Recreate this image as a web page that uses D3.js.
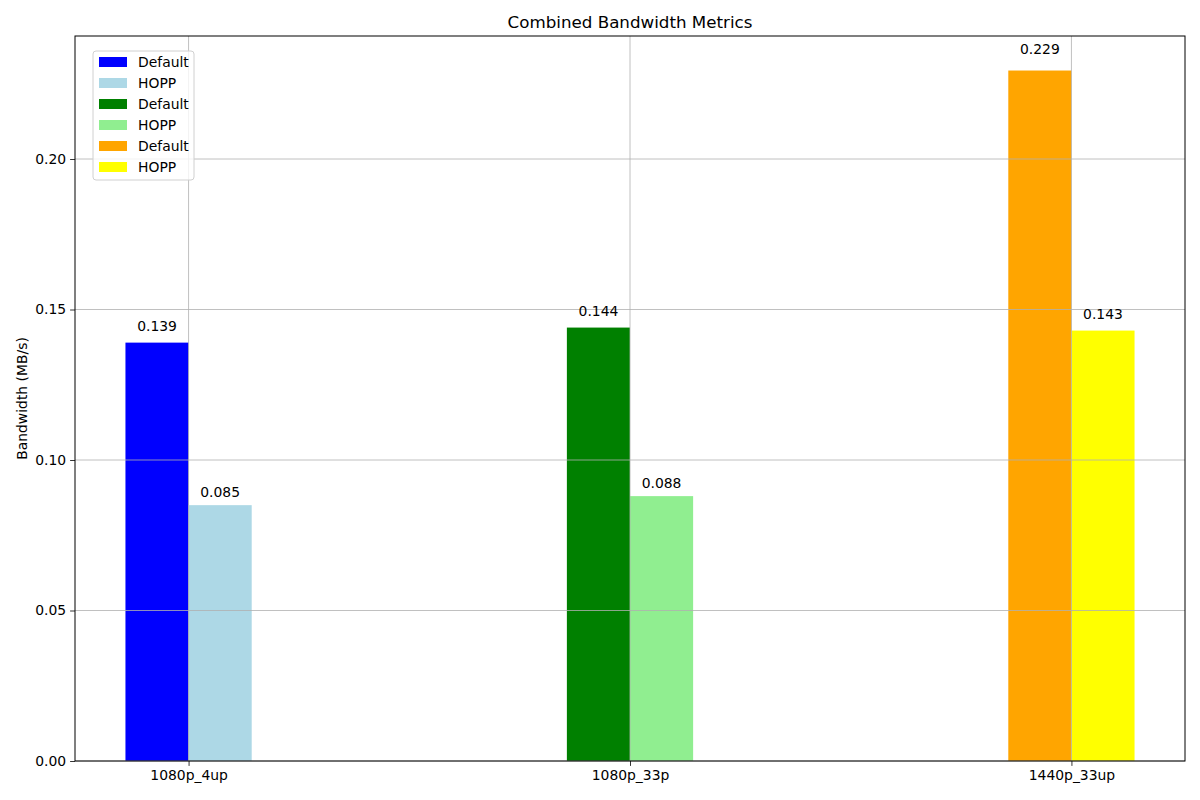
<!DOCTYPE html>
<html>
<head>
<meta charset="utf-8">
<script src="https://cdn.jsdelivr.net/npm/d3@7"></script>
<style>
  body { margin: 0; background: #fff; }
  svg { font-family: "DejaVu Sans", sans-serif; }
</style>
</head>
<body>
<div id="chart"></div>
<script>
// data
const categories = ["1080p_4up", "1080p_33p", "1440p_33up"];
const defaultValues = [0.139, 0.144, 0.2294];
const hoppValues = [0.085, 0.088, 0.143];
const defaultColors = ["blue", "green", "orange"];
const hoppColors = ["lightblue", "lightgreen", "yellow"];
const yTicks = [0, 0.05, 0.10, 0.15, 0.20];

const margin = {top: 36, right: 15, bottom: 39, left: 75},
    width = 1200 - margin.left - margin.right,
    height = 800 - margin.top - margin.bottom;

const fs = "13.9px";

const svg = d3.select("#chart")
    .append("svg")
    .attr("width", 1200)
    .attr("height", 800);

const g = svg.append("g")
    .attr("transform", `translate(${margin.left},${margin.top})`);

const barW = 0.143;
const idx = categories.map((c, i) => i);
// matplotlib style 5% margins around the bars
const xMin = -barW, xMax = categories.length - 1 + barW;
const pad = (xMax - xMin) * 0.05;
const x = d3.scaleLinear().domain([xMin - pad, xMax + pad]).range([0, width]);
const yMax = d3.max(defaultValues.concat(hoppValues)) * 1.05;
const y = d3.scaleLinear().domain([0, yMax]).range([height, 0]);

const bw = x(barW) - x(0);

// bars
g.selectAll(".bar-default")
    .data(idx)
    .enter()
    .append("rect")
    .attr("x", i => x(i) - bw)
    .attr("y", i => y(defaultValues[i]))
    .attr("width", bw)
    .attr("height", i => y(0) - y(defaultValues[i]))
    .style("fill", i => defaultColors[i]);

g.selectAll(".bar-hopp")
    .data(idx)
    .enter()
    .append("rect")
    .attr("x", i => x(i))
    .attr("y", i => y(hoppValues[i]))
    .attr("width", bw)
    .attr("height", i => y(0) - y(hoppValues[i]))
    .style("fill", i => hoppColors[i]);

// grid on top of bars
g.append("g").selectAll("line")
    .data(yTicks)
    .enter()
    .append("line")
    .attr("x1", 0).attr("x2", width)
    .attr("y1", d => y(d)).attr("y2", d => y(d))
    .style("stroke", "#b0b0b0").style("stroke-width", 0.8);

g.append("g").selectAll("line")
    .data(idx)
    .enter()
    .append("line")
    .attr("x1", i => x(i)).attr("x2", i => x(i))
    .attr("y1", 0).attr("y2", height)
    .style("stroke", "#b0b0b0").style("stroke-width", 0.8);

// value labels, sitting at 1.02 x value like the original
const fmt = d3.format(".3f");
g.selectAll(".lab-default")
    .data(idx)
    .enter()
    .append("text")
    .attr("x", i => x(i) - bw / 2)
    .attr("y", i => y(defaultValues[i] * 1.02) - 3)
    .style("text-anchor", "middle")
    .style("font-size", fs)
    .text(i => fmt(defaultValues[i]));

g.selectAll(".lab-hopp")
    .data(idx)
    .enter()
    .append("text")
    .attr("x", i => x(i) + bw / 2)
    .attr("y", i => y(hoppValues[i] * 1.02) - 3)
    .style("text-anchor", "middle")
    .style("font-size", fs)
    .text(i => fmt(hoppValues[i]));

// axes
const xAxis = g.append("g")
    .attr("transform", `translate(0,${height})`)
    .call(d3.axisBottom(x).tickValues(idx).tickFormat(i => categories[i]).tickSize(4.9).tickPadding(4));
const yAxis = g.append("g")
    .call(d3.axisLeft(y).tickValues(yTicks).tickFormat(d3.format(".2f")).tickSize(4.9).tickPadding(4));
[xAxis, yAxis].forEach(a => {
    a.select(".domain").remove();
    a.selectAll("text").style("font-size", fs).style("font-family", "DejaVu Sans").attr("fill", "#000");
    a.selectAll("line").style("stroke", "#000").style("stroke-width", 0.8);
});

// frame
g.append("rect")
    .attr("width", width).attr("height", height)
    .style("fill", "none").style("stroke", "#000").style("stroke-width", 1);

// title and y label
svg.append("text")
    .attr("x", margin.left + width / 2).attr("y", 28)
    .style("text-anchor", "middle").style("font-size", "16.7px")
    .text("Combined Bandwidth Metrics");

svg.append("text")
    .attr("transform", `translate(27,${margin.top + height / 2}) rotate(-90)`)
    .style("text-anchor", "middle").style("font-size", fs)
    .text("Bandwidth (MB/s)");

// legend
const legendItems = [];
idx.forEach(i => {
    legendItems.push({label: "Default", color: defaultColors[i]});
    legendItems.push({label: "HOPP", color: hoppColors[i]});
});

const legend = g.append("g").attr("transform", "translate(18,15)");
legend.append("rect")
    .attr("width", 101).attr("height", 129)
    .attr("rx", 3)
    .style("fill", "#fff").style("fill-opacity", 0.8)
    .style("stroke", "#d0d0d0").style("stroke-width", 1);

const rows = legend.selectAll(".row")
    .data(legendItems)
    .enter()
    .append("g")
    .attr("transform", (d, i) => `translate(6,${11 + i * 21})`);
rows.append("rect")
    .attr("y", -5).attr("width", 28).attr("height", 10)
    .style("fill", d => d.color);
rows.append("text")
    .attr("x", 39).attr("y", 5)
    .style("font-size", fs)
    .text(d => d.label);
</script>
</body>
</html>
